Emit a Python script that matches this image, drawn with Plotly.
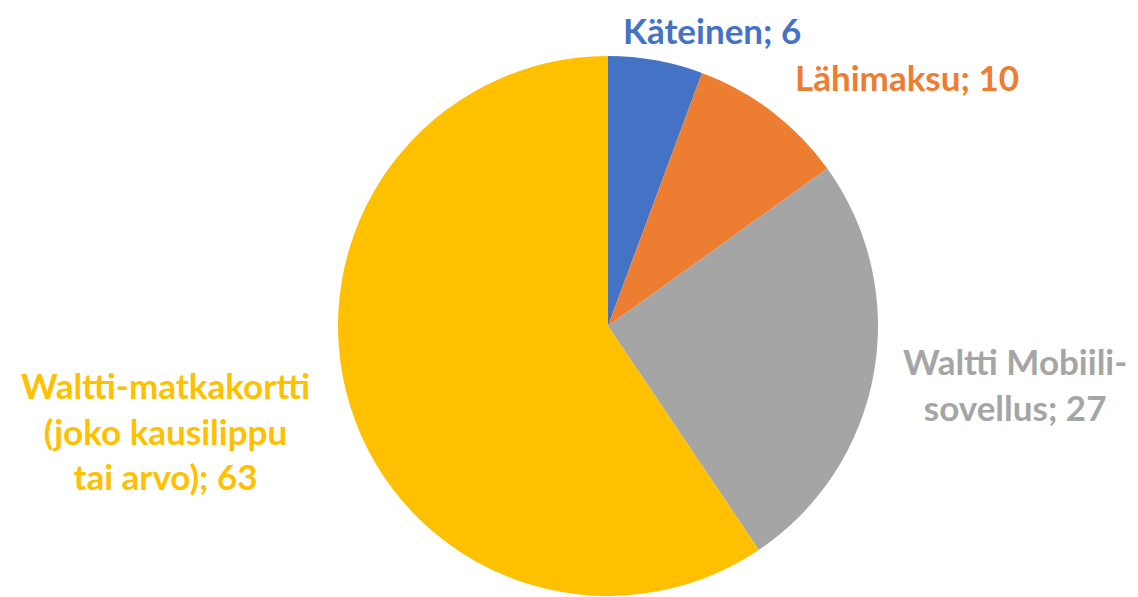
import plotly.graph_objects as go

categories = ["Käteinen", "Lähimaksu", "Waltti Mobiili-sovellus", "Waltti-matkakortti (joko kausilippu tai arvo)"]
values = [6, 10, 27, 63]
label_texts = ["Käteinen; 6", "Lähimaksu; 10", "Waltti Mobiili-<br>sovellus; 27",
               "Waltti-matkakortti<br>(joko kausilippu<br>tai arvo); 63"]
colors = ["#4472C4", "#ED7D31", "#A5A5A5", "#FFC000"]

W, H, OFF = 1138, 597, 8
label_px = [(712, 24), (907, 77), (1015, 384), (165, 430)]

fig = go.Figure(go.Pie(
    labels=categories, values=values, sort=False, direction="clockwise", rotation=0,
    marker=dict(colors=colors, line=dict(color="white", width=0)),
    textinfo="none", hoverinfo="label+value", showlegend=False,
    domain=dict(x=[(338 - OFF) / W, (878 - OFF) / W], y=[1 - (596 - OFF) / H, 1 - (56 - OFF) / H]),
))

for i, (txt, col, (px, py)) in enumerate(zip(label_texts, colors, label_px)):
    if i == 0:
        yv, ya = 1.0, "top"
    else:
        yv, ya = 1 - (py - OFF) / H, "middle"
    fig.add_annotation(x=(px - OFF) / W, y=yv, xref="paper", yref="paper",
                       text=txt, showarrow=False, borderpad=0,
                       font=dict(family="Lato", size=35, color=col, weight="bold"),
                       align="center", xanchor="center", yanchor=ya)

fig.update_layout(width=W, height=H, margin=dict(l=0, r=0, t=0, b=0),
                  paper_bgcolor="white", plot_bgcolor="white")
fig.write_html("out.html")
